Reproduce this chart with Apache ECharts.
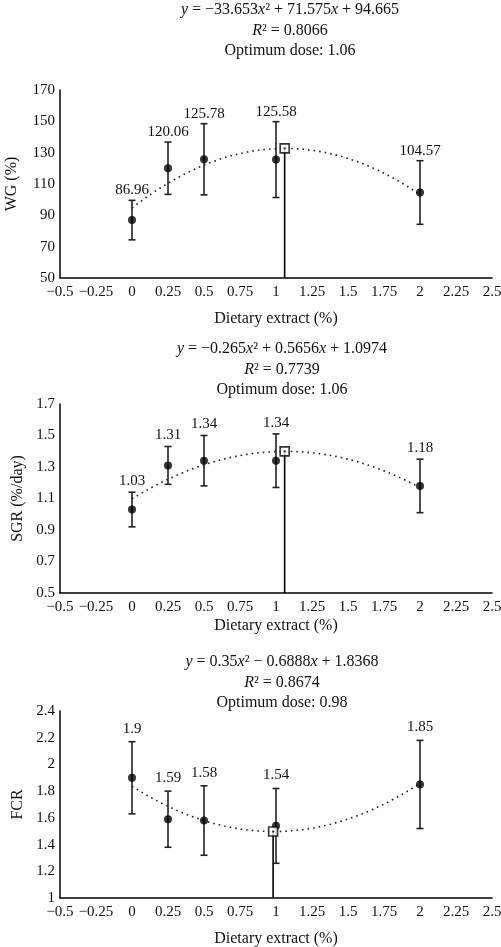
<!DOCTYPE html>
<html><head><meta charset="utf-8">
<script src="https://cdn.jsdelivr.net/npm/echarts@6/dist/echarts.min.js"></script>
<style>html,body{margin:0;padding:0;background:#fff}#c{width:501px;height:947px}</style>
</head><body><div id="c"></div>
<script>
// ---- data ----
const doses = [0, 0.25, 0.5, 1, 2];
const wgMean = [86.96, 120.06, 125.78, 125.58, 104.57];
const wgErr = [12.6, 16.7, 22.7, 24.2, 20.3];
const sgrMean = [1.03, 1.31, 1.34, 1.34, 1.18];
const sgrErr = [0.11, 0.12, 0.16, 0.17, 0.17];
const fcrMean = [1.9, 1.59, 1.58, 1.54, 1.85];
const fcrErr = [0.27, 0.21, 0.26, 0.28, 0.33];
// quadratic fit coefficients [a, b, c] as printed on the chart
const wgFit = [-33.653, 71.575, 94.665];
const sgrFit = [-0.265, 0.5656, 1.0974];
const fcrFit = [0.35, -0.6888, 1.8368];
const r2 = ['0.8066', '0.7739', '0.8674'];
const optDose = [1.06, 1.06, 0.98];
const eqText = [
  '{i|y} = −33.653{i|x}² + 71.575{i|x} + 94.665',
  '{i|y} = −0.265{i|x}² + 0.5656{i|x} + 1.0974',
  '{i|y} = 0.35{i|x}² − 0.6888{i|x} + 1.8368'
];
const yNames = ['WG (%)', 'SGR (%/day)', 'FCR'];
const xName = 'Dietary extract (%)';
const yRanges = [[50, 170, 10, 20], [0.5, 1.7, 0.1, 0.2], [1, 2.4, 0.2, 0.2]];

// ---- layout ----
const FONT = '"Liberation Serif", "Times New Roman", serif';
const grids = [
  {left: 60, right: 9, top: 90, height: 188, containLabel: false, outerBoundsMode: 'none'},
  {left: 60, right: 9, top: 404, height: 189, containLabel: false, outerBoundsMode: 'none'},
  {left: 60, right: 9, top: 711, height: 187, containLabel: false, outerBoundsMode: 'none'}
];
const titleTops = [-5, 334, 647];
const titleX = [285, 277, 277];
const xNameGaps = [33, 25, 33];
const yNameGaps = [40, 33, 33];
const labelOffsets = [10, 11, 13];

const means = [wgMean, sgrMean, fcrMean];
const errs = [wgErr, sgrErr, fcrErr];
const fits = [wgFit, sgrFit, fcrFit];

function fitVal(c, x) { return c[0] * x * x + c[1] * x + c[2]; }
function fmtMinus(v) { return String(v).replace('-', '−'); }

const option = {
  animation: false,
  backgroundColor: '#fff',
  textStyle: {fontFamily: FONT},
  title: [], grid: grids, xAxis: [], yAxis: [], series: []
};

for (let p = 0; p < 3; p++) {
  option.title.push({
    text: eqText[p] + '\n{i|R}² = ' + r2[p] + '\nOptimum dose: ' + optDose[p].toFixed(2),
    left: titleX[p], top: titleTops[p], textAlign: 'center',
    textStyle: {
      fontFamily: FONT, fontSize: 16, fontWeight: 'normal', color: '#111', lineHeight: 20.5,
      rich: {i: {fontFamily: FONT, fontSize: 16, fontStyle: 'italic', color: '#111', lineHeight: 20.5}}
    }
  });
  option.xAxis.push({
    type: 'value', gridIndex: p, min: -0.5, max: 2.5, interval: 0.25,
    name: xName, nameLocation: 'middle', nameGap: xNameGaps[p],
    nameTextStyle: {fontFamily: FONT, fontSize: 16, color: '#111'},
    axisLine: {onZero: false, lineStyle: {color: '#000', width: 1.5}},
    axisTick: {show: false}, splitLine: {show: false},
    axisLabel: {fontFamily: FONT, fontSize: 15, color: '#111', margin: 7, formatter: fmtMinus,
      showMinLabel: true, showMaxLabel: true, hideOverlap: false}
  });
  const yr = yRanges[p];
  option.yAxis.push({
    type: 'value', gridIndex: p, min: yr[0], max: yr[1], interval: yr[2],
    name: yNames[p], nameLocation: 'middle', nameGap: yNameGaps[p],
    nameTextStyle: {fontFamily: FONT, fontSize: 16, color: '#111'},
    axisLine: {show: true, onZero: false, lineStyle: {color: '#000', width: 1.5}},
    axisTick: {show: false}, splitLine: {show: false},
    axisLabel: {fontFamily: FONT, fontSize: 15, color: '#111', margin: 5,
      formatter: function (v) {
        const k = Math.round((v - yr[0]) / yr[2]);
        const step = Math.round(yr[3] / yr[2]);
        return k % step === 0 ? String(+v.toFixed(2)) : '';
      }}
  });

  // trend curve (from printed equation)
  const curve = [];
  for (let x = 0; x <= 2.0001; x += 0.02) curve.push([x, fitVal(fits[p], x)]);
  option.series.push({
    type: 'line', xAxisIndex: p, yAxisIndex: p, data: curve, showSymbol: false,
    lineStyle: {color: '#222', width: 1.6, type: [1.6, 4]}, z: 2, silent: true
  });

  // optimum vertical line + marker
  const oy = fitVal(fits[p], optDose[p]);
  option.series.push({
    type: 'line', xAxisIndex: p, yAxisIndex: p, data: [[optDose[p], yr[0]], [optDose[p], oy]],
    showSymbol: false, lineStyle: {color: '#000', width: 1.6}, z: 3, silent: true
  });
  option.series.push({
    type: 'scatter', xAxisIndex: p, yAxisIndex: p, data: [[optDose[p], oy]],
    symbol: 'rect', symbolSize: 9,
    itemStyle: {color: '#fff', borderColor: '#000', borderWidth: 1.6}, z: 6, silent: true
  });
  option.series.push({
    type: 'scatter', xAxisIndex: p, yAxisIndex: p, data: [[optDose[p], oy]],
    symbol: 'rect', symbolSize: 2, itemStyle: {color: '#000'}, z: 7, silent: true
  });

  // error bars with value labels
  const m = means[p], e = errs[p];
  const off = labelOffsets[p];
  option.series.push({
    type: 'custom', xAxisIndex: p, yAxisIndex: p, z: 4,
    data: doses.map((d, i) => [d, m[i] - e[i], m[i] + e[i], m[i]]),
    renderItem: function (params, api) {
      const lo = api.coord([api.value(0), api.value(1)]);
      const hi = api.coord([api.value(0), api.value(2)]);
      const cap = 3.5;
      const ls = {stroke: '#222', lineWidth: 1.6};
      return {
        type: 'group', children: [
          {type: 'line', shape: {x1: lo[0], y1: lo[1], x2: hi[0], y2: hi[1]}, style: ls},
          {type: 'line', shape: {x1: lo[0] - cap, y1: lo[1], x2: lo[0] + cap, y2: lo[1]}, style: ls},
          {type: 'line', shape: {x1: hi[0] - cap, y1: hi[1], x2: hi[0] + cap, y2: hi[1]}, style: ls},
          {type: 'text', x: hi[0], y: hi[1] - off,
            style: {text: String(api.value(3)), fill: '#111', font: '15px ' + FONT,
              align: 'center', verticalAlign: 'middle'}}
        ]
      };
    }
  });
  option.series.push({
    type: 'scatter', xAxisIndex: p, yAxisIndex: p, data: doses.map((d, i) => [d, m[i]]),
    symbol: 'circle', symbolSize: 8, itemStyle: {color: '#000'}, z: 5, silent: true
  });
}

const chart = echarts.init(document.getElementById('c'), null, {renderer: 'canvas'});
chart.setOption(option);
</script>
</body></html>
